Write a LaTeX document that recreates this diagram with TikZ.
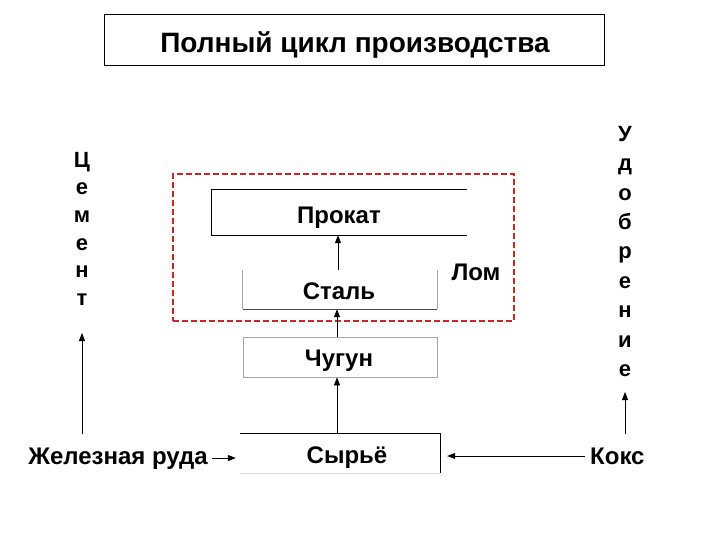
\documentclass[tikz,border=0pt]{standalone}
\usepackage{fontspec}
\setmainfont{Liberation Sans}
\usetikzlibrary{arrows.meta}
\definecolor{framered}{RGB}{206,36,40}
\begin{document}
\begin{tikzpicture}[x=1pt,y=-1pt,
  lbl/.style={font=\bfseries\fontsize{24}{28}\selectfont, inner sep=0pt},
  vlbl/.style={font=\bfseries\fontsize{22}{#1}\selectfont, inner sep=0pt, align=center},
  boxn/.style={minimum width=#1, inner sep=0pt},
  arr/.style={-{Triangle[length=8pt,width=6pt]}, line width=0.8pt},
  edgeb/.style={black, line width=0.8pt},
  edgeg/.style={black!35, line width=0.8pt}]
\useasboundingbox (0,0) rectangle (720,540);
% title
\node[draw, line width=0.8pt, minimum width=500pt, minimum height=51pt, inner sep=0pt] (title) at (354,39.5) {};
\node[font=\bfseries\fontsize{28}{32}\selectfont, inner sep=0pt] (titletext) at (355,44.5) {Полный цикл производства};
% dashed frame
\node[draw=framered, dash pattern=on 6pt off 3pt, line width=2pt, minimum width=341pt, minimum height=147pt, inner sep=0pt] (frame) at (343.5,247.5) {};
% boxes
\node[boxn=255pt, minimum height=45pt] (prokat) at (339.5,212.5) {};
\node[lbl] (prokatT) at (339,218) {Прокат};
\draw[edgeb] (prokat.north east) -- (prokat.north west) -- (prokat.south west) -- (prokat.south east);
\node[boxn=194pt, minimum height=39pt] (stal) at (340,289.5) {};
\node[lbl] (stalT) at (339,291) {Сталь};
\draw[edgeg] (stal.north west) -- (stal.south west);
\draw[edgeg] (stal.north east) -- (stal.south east);
\draw[black!70, line width=0.8pt] (stal.south west) -- (stal.south east);
\node[boxn=194pt, minimum height=40pt, draw=black!35, line width=0.8pt] (chugun) at (340,357) {};
\node[lbl] (chugunT) at (339,360.5) {Чугун};
\node[boxn=200pt, minimum height=39pt] (syrie) at (340,453.5) {};
\node[lbl] (syrieT) at (347,458) {Сырьё};
\draw[edgeb] (syrie.north west) -- (syrie.north east) -- (syrie.south east);
\draw[black!15, line width=0.8pt] (syrie.south west) -- (syrie.south east);
% side labels
\node[lbl, anchor=east] (ruda) at (208,459) {Железная руда};
\node[lbl, anchor=west] (koks) at (590,456) {Кокс};
\node[lbl] (lom) at (476,272) {Лом};
\node[vlbl=27.6, anchor=north] (cement) at (82,152) {Ц\\е\\м\\е\\н\\т};
\node[vlbl=29.4, anchor=north] (udobr) at (625,126) {У\\д\\о\\б\\р\\е\\н\\и\\е};
\coordinate (cbase) at (82,434);
\coordinate (ubase) at (625,434);
% arrows
\draw[arr] (syrie.north -| 337,0) -- (chugun.south -| 337,0);
\draw[arr] (chugun.north -| 337,0) -- (stal.south -| 337,0);
\draw[arr] (stal.north -| 338,0) -- (prokat.south -| 338,0);
\draw[arr] (ruda.east |- 0,458) ++(4,0) -- ([xshift=-4pt]syrie.west |- 0,458);
\draw[arr] ([xshift=-5pt]koks.west |- 0,456) -- ([xshift=7pt]syrie.east |- 0,456);
\draw[arr] (cbase) -- (82,333);
\draw[arr] (ubase) -- (625,392);
\end{tikzpicture}
\end{document}
